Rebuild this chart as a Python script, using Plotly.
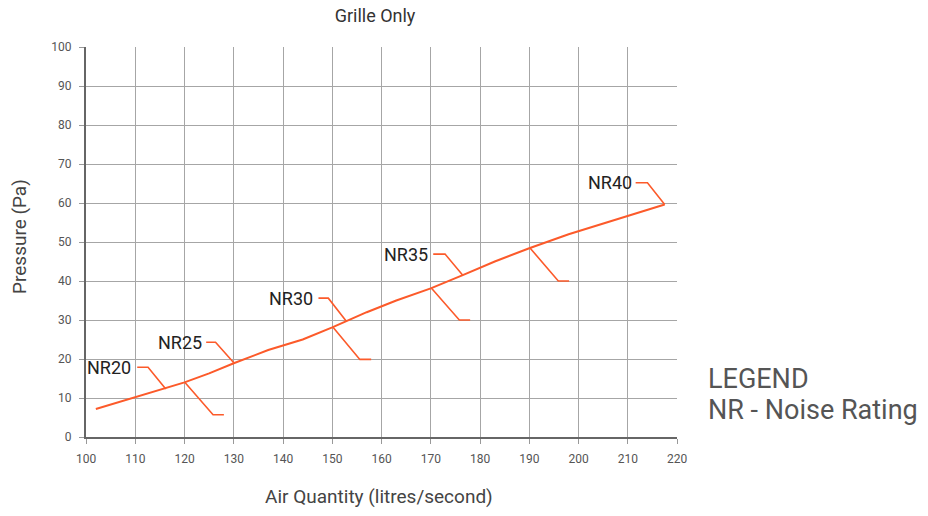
import plotly.graph_objects as go

# Main curve (air quantity vs pressure)
curve_x = [102, 110, 116, 120, 125, 130, 137, 144, 150, 157, 163, 170, 176.5, 183, 190, 198, 217.5]
curve_y = [7.2, 10.2, 12.3, 14.0, 16.3, 18.9, 22.3, 25.0, 28.1, 32.0, 35.0, 38.1, 41.5, 45.0, 48.4, 52.0, 59.6]

# Noise rating labels
nr_labels = ["NR20", "NR25", "NR30", "NR35", "NR40"]
nr_label_x = [109.6, 123.9, 146.4, 169.8, 211.2]
nr_label_y = [17.9, 24.3, 35.6, 46.9, 65.2]

# Upper leader lines (label -> curve)
upper_leaders = {
    "NR20": ([110.4, 112.6, 116.2], [17.9, 17.9, 12.3]),
    "NR25": ([124.4, 126.3, 130.1], [24.3, 24.3, 18.9]),
    "NR30": ([147.2, 149.2, 152.9], [35.6, 35.6, 29.6]),
    "NR35": ([170.5, 172.9, 176.5], [46.9, 46.9, 41.5]),
    "NR40": ([211.6, 214.0, 217.5], [65.2, 65.2, 59.6]),
}
# Lower leader lines (curve -> down right)
lower_leaders = {
    "NR20": ([120.1, 125.8, 128.0], [14.0, 5.7, 5.7]),
    "NR30": ([150.2, 155.6, 157.9], [28.1, 19.9, 19.9]),
    "NR35a": ([170.2, 175.8, 178.0], [38.1, 30.0, 30.0]),
    "NR35b": ([190.2, 195.9, 198.1], [48.4, 40.0, 40.0]),
}

x_ticks = list(range(100, 221, 10))
y_ticks = list(range(0, 101, 10))

LINE = "#fc5a2a"
TICKFONT = dict(family="Liberation Sans Narrow, Roboto", size=12, color="#555")
fig = go.Figure()
fig.add_trace(go.Scatter(x=curve_x, y=curve_y, mode="lines",
                         line=dict(color=LINE, width=2), hoverinfo="skip"))
for k, (xs, ys) in upper_leaders.items():
    fig.add_trace(go.Scatter(x=xs, y=ys, mode="lines",
                             line=dict(color=LINE, width=1.6), hoverinfo="skip"))
for k, (xs, ys) in lower_leaders.items():
    fig.add_trace(go.Scatter(x=xs, y=ys, mode="lines",
                             line=dict(color=LINE, width=1.6), hoverinfo="skip"))

for t, x, y in zip(nr_labels, nr_label_x, nr_label_y):
    fig.add_annotation(x=x, y=y, text=t, showarrow=False, xanchor="right", yanchor="middle",
                       font=dict(family="Roboto", size=18, color="#222"))

fig.add_annotation(xref="paper", yref="paper", x=(706 - 86) / 591, y=(437 - 379) / 390,
                   text="LEGEND", showarrow=False, xanchor="left", yanchor="middle",
                   font=dict(family="Roboto", size=27, color="#555"))
fig.add_annotation(xref="paper", yref="paper", x=(706 - 86) / 591, y=(437 - 410) / 390,
                   text="NR - Noise Rating", showarrow=False, xanchor="left", yanchor="middle",
                   font=dict(family="Roboto", size=27, color="#555"))

# axis titles
fig.add_annotation(xref="paper", yref="paper", x=(379 - 86) / 591, y=(437 - 497) / 390,
                   text="Air Quantity (litres/second)", showarrow=False,
                   xanchor="center", yanchor="middle",
                   font=dict(family="Roboto", size=19, color="#444"))
fig.add_annotation(xref="paper", yref="paper", x=(19 - 86) / 591, y=(437 - 237) / 390,
                   text="Pressure (Pa)", showarrow=False, textangle=-90,
                   xanchor="center", yanchor="middle",
                   font=dict(family="Roboto", size=19, color="#444"))

fig.update_layout(
    width=928, height=516,
    margin=dict(l=86, r=251, t=47, b=79),
    paper_bgcolor="white", plot_bgcolor="white",
    showlegend=False,
    title=dict(text="Grille Only", x=375 / 928, xanchor="center", y=1 - 16 / 516, yanchor="middle",
               font=dict(family="Roboto", size=18, color="#333")),
    font=dict(family="Roboto"),
)
fig.update_xaxes(range=[100, 220], tickvals=x_ticks, ticktext=[str(v) for v in x_ticks],
                 showgrid=True, gridcolor="#a6a6a6", gridwidth=1,
                 showline=True, linecolor="#666", linewidth=2,
                 ticks="outside", ticklen=5, tickcolor="#999",
                 tickfont=TICKFONT, ticklabelstandoff=5,
                 zeroline=False, mirror=False)
fig.update_yaxes(range=[0, 100], tickvals=y_ticks, ticktext=[str(v) for v in y_ticks],
                 showgrid=True, gridcolor="#a6a6a6", gridwidth=1,
                 showline=True, linecolor="#666", linewidth=2,
                 ticks="outside", ticklen=5, tickcolor="#999",
                 tickfont=TICKFONT, ticklabelstandoff=5,
                 zeroline=False)

fig.write_html("out.html", config={"displayModeBar": False},
               post_script="document.body.style.margin='0';")
